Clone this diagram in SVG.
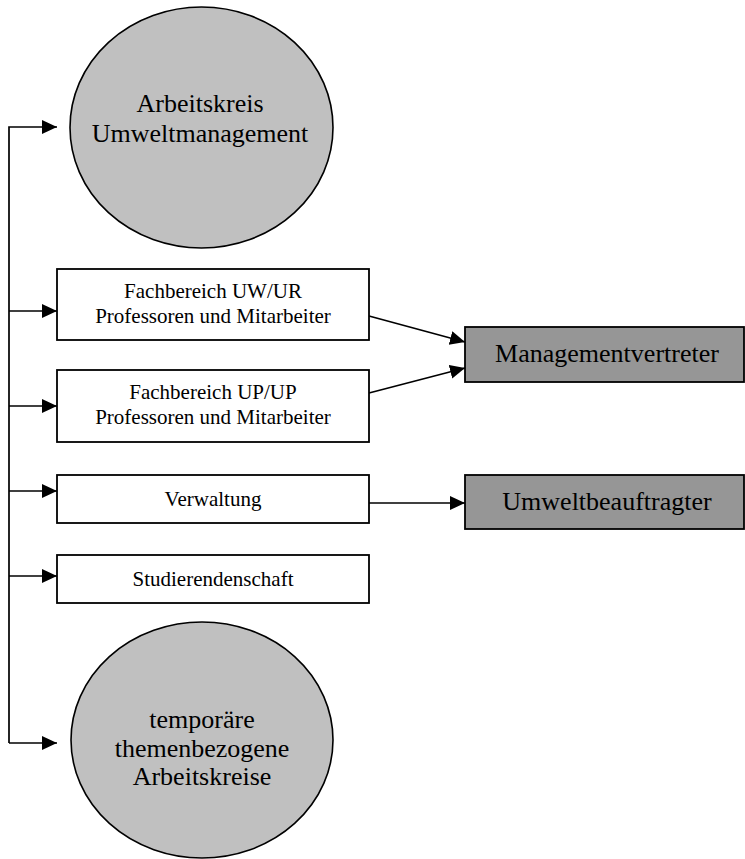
<svg xmlns="http://www.w3.org/2000/svg" width="745" height="859" viewBox="0 0 745 859">
<style>
.ell{fill:#c0c0c0;stroke:#000;stroke-width:1.6}
.box{fill:#fff;stroke:#000;stroke-width:1.8}
.gbox{fill:#969696;stroke:#000;stroke-width:1.8}
.t{font-family:"Liberation Serif","Times New Roman",serif;fill:#000;text-anchor:middle}
.big{font-size:26px}
.small{font-size:21px}
.c{fill:none;stroke:#000;stroke-width:1.7}
</style>
<defs>
<marker id="ah" markerUnits="userSpaceOnUse" markerWidth="16" markerHeight="15" refX="15" refY="7" orient="auto">
<path d="M0,0 L15,7 L0,14 z" fill="#000"/>
</marker>
</defs>
<rect width="745" height="859" fill="#fff"/>
<g id="connectors">
<path class="c" d="M9,743 L9,127 L57,127" marker-end="url(#ah)"/>
<path class="c" d="M9,311 L57,311" marker-end="url(#ah)"/>
<path class="c" d="M9,406 L57,406" marker-end="url(#ah)"/>
<path class="c" d="M9,491 L57,491" marker-end="url(#ah)"/>
<path class="c" d="M9,576 L57,576" marker-end="url(#ah)"/>
<path class="c" d="M9,743 L57,743" marker-end="url(#ah)"/>
<path class="c" d="M369,316 L465,342" marker-end="url(#ah)"/>
<path class="c" d="M369,393 L465,368" marker-end="url(#ah)"/>
<path class="c" d="M369,503 L465,503" marker-end="url(#ah)"/>
</g>
<g id="arbeitskreis">
<ellipse class="ell" cx="201.5" cy="127.5" rx="131.5" ry="120.5"/>
<text class="t big" x="200" y="112">Arbeitskreis</text>
<text class="t big" x="200" y="142">Umweltmanagement</text>
</g>
<g id="fb-uw">
<rect class="box" x="57" y="269" width="312" height="71"/>
<text class="t small" x="213" y="298">Fachbereich UW/UR</text>
<text class="t small" x="213" y="323">Professoren und Mitarbeiter</text>
</g>
<g id="fb-up">
<rect class="box" x="57" y="370" width="312" height="72"/>
<text class="t small" x="213" y="399">Fachbereich UP/UP</text>
<text class="t small" x="213" y="424">Professoren und Mitarbeiter</text>
</g>
<g id="verwaltung">
<rect class="box" x="57" y="475" width="312" height="48"/>
<text class="t small" x="213" y="506">Verwaltung</text>
</g>
<g id="studierende">
<rect class="box" x="57" y="555" width="312" height="48"/>
<text class="t small" x="213" y="586">Studierendenschaft</text>
</g>
<g id="temporaer">
<ellipse class="ell" cx="202" cy="740" rx="131" ry="118"/>
<text class="t big" x="202" y="728">temporäre</text>
<text class="t big" x="202" y="757">themenbezogene</text>
<text class="t big" x="202" y="785">Arbeitskreise</text>
</g>
<g id="managementvertreter">
<rect class="gbox" x="465" y="327" width="279" height="55"/>
<text class="t big" x="607" y="362">Managementvertreter</text>
</g>
<g id="umweltbeauftragter">
<rect class="gbox" x="465" y="475" width="279" height="54"/>
<text class="t big" x="607" y="510">Umweltbeauftragter</text>
</g>
</svg>
